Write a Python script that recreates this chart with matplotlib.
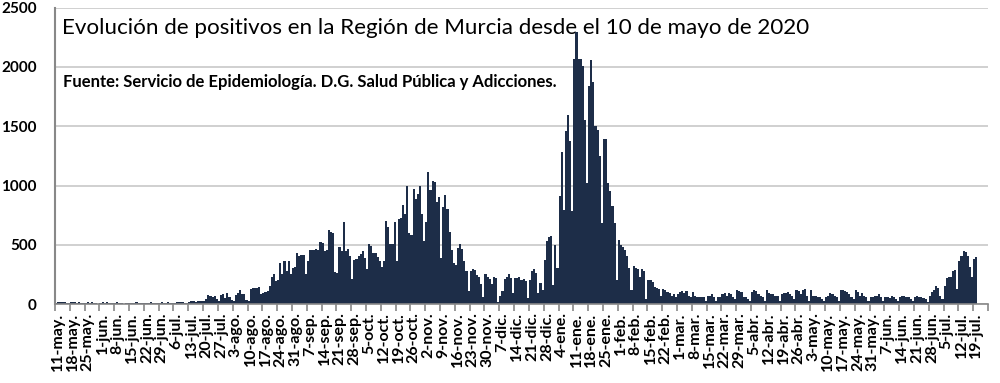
import numpy as np
import matplotlib
matplotlib.use("Agg")
import matplotlib.pyplot as plt

# positivos diarios desde el 10-may-2020 (domingo), una fila = una semana
casos_may_ago_2020 = [
    12, 18, 15, 14, 16, 10, 8,
    14, 17, 15, 12, 14, 10, 9,
    11, 15, 13, 16, 12, 9, 3,
    10, 14, 12, 15, 11, 9, 6,
    12, 14, 11, 13, 3, 9, 8,
    10, 13, 12, 14, 11, 9, 8,
    11, 13, 12, 14, 12, 10, 9,
    12, 14, 13, 12, 15, 11, 10,
    13, 16, 15, 17, 14, 12, 11,
    18, 30, 22, 20, 24, 26, 22,
    25, 45, 78, 65, 60, 70, 40,
    30, 80, 85, 55, 90, 60, 35,
    30, 78, 90, 118, 88, 82, 35,
]
casos_ago_nov_2020 = [
    30, 125, 133, 140, 140, 148, 85,
    90, 98, 110, 155, 228, 250, 195,
    200, 347, 250, 361, 278, 361, 252,
    305, 311, 430, 403, 411, 411, 252,
    367, 458, 460, 458, 462, 460, 520,
    514, 450, 455, 625, 611, 597, 270,
    264, 478, 450, 695, 445, 467, 403,
    208, 375, 378, 403, 422, 445, 389,
    300, 506, 486, 431, 430, 395, 361,
    311, 361, 700, 653, 506, 510, 695,
    361, 717, 728, 834, 764, 1000, 598,
    584, 973, 890, 931, 995, 764, 528,
    695, 1110, 959, 1042, 1028, 862, 903,
]
casos_nov_feb_2021 = [
    389, 820, 917, 806, 611, 458, 347,
    333, 472, 506, 467, 367, 278, 110,
    275, 295, 285, 245, 231, 173, 58,
    254, 231, 208, 173, 225, 217, 20,
    70, 110, 215, 230, 250, 220, 90,
    220, 220, 225, 205, 215, 191, 51,
    205, 276, 300, 262, 93, 177, 121,
    374, 529, 566, 577, 163, 501, 304,
    915, 1280, 796, 1458, 1598, 1373, 782,
    2068, 2295, 2068, 2063, 2006, 1556, 1021,
    1837, 2057, 1871, 1500, 1472, 1247, 684,
    1393, 1393, 1021, 951, 824, 684, 205,
    543, 501, 481, 459, 402, 304, 115,
]
casos_feb_may_2021 = [
    318, 304, 295, 231, 295, 275, 43,
    202, 200, 188, 145, 139, 130, 72,
    130, 121, 101, 92, 72, 87, 58,
    87, 101, 107, 92, 107, 72, 58,
    101, 72, 64, 64, 64, 58, 29,
    72, 72, 87, 58, 23, 58, 64,
    87, 92, 72, 92, 87, 58, 43,
    116, 110, 101, 58, 58, 43, 29,
    101, 116, 110, 87, 72, 58, 23,
    121, 92, 87, 81, 72, 72, 23,
    87, 92, 92, 101, 87, 72, 43,
    116, 110, 87, 121, 130, 72, 23,
    116, 72, 72, 64, 58, 43, 23,
]
casos_may_jul_2021 = [
    58, 72, 92, 81, 72, 58, 23,
    116, 116, 110, 101, 81, 58, 43,
    116, 101, 72, 92, 72, 58, 29,
    64, 58, 72, 72, 81, 58, 29,
    64, 58, 52, 72, 58, 43, 23,
    64, 72, 72, 64, 58, 43, 23,
    64, 72, 64, 58, 52, 43, 14,
    72, 101, 121, 150, 139, 72, 43,
    150, 217, 231, 231, 275, 289, 130,
    361, 405, 448, 440, 405, 312, 231,
    380, 399,
]

etiquetas = [
    "11-may.", "18-may.", "25-may.", "1-jun.", "8-jun.", "15-jun.", "22-jun.",
    "29-jun.", "6-jul.", "13-jul.", "20-jul.", "27-jul.", "3-ago.", "10-ago.",
    "17-ago.", "24-ago.", "31-ago.", "7-sep.", "14-sep.", "21-sep.", "28-sep.",
    "5-oct.", "12-oct.", "19-oct.", "26-oct.", "2-nov.", "9-nov.", "16-nov.",
    "23-nov.", "30-nov.", "7-dic.", "14-dic.", "21-dic.", "28-dic.", "4-ene.",
    "11-ene.", "18-ene.", "25-ene.", "1-feb.", "8-feb.", "15-feb.", "22-feb.",
    "1-mar.", "8-mar.", "15-mar.", "22-mar.", "29-mar.", "5-abr.", "12-abr.",
    "19-abr.", "26-abr.", "3-may.", "10-may.", "17-may.", "24-may.", "31-may.",
    "7-jun.", "14-jun.", "21-jun.", "28-jun.", "5-jul.", "12-jul.", "19-jul.",
]

casos = np.array(casos_may_ago_2020 + casos_ago_nov_2020 + casos_nov_feb_2021
                 + casos_feb_may_2021 + casos_may_jul_2021)
dias = np.arange(len(casos))

fig = plt.figure(figsize=(10, 3.83), dpi=100)
ax = fig.add_axes([0.055, 0.206, 0.933, 0.774])

ax.bar(dias, casos, width=1.0, color="#1d2d48", linewidth=0, zorder=2)

ax.set_xlim(-0.5, len(casos) - 0.5)
ax.set_ylim(0, 2500)
ax.set_yticks(range(0, 2501, 500))
ax.yaxis.grid(True, color="#c8c8c8", linewidth=1.2, zorder=0)
ax.tick_params(axis="y", length=0, pad=13)
for t in ax.get_yticklabels():
    t.set_fontfamily("Lato")
    t.set_fontweight("bold")
    t.set_fontsize(11)

# etiquetas cada lunes, marcas entre semanas
pos_etiq = np.arange(len(etiquetas)) * 7 + 1
ax.set_xticks(pos_etiq)
ax.set_xticklabels(etiquetas, rotation=90, fontfamily="Lato",
                   fontweight="bold", fontsize=11.5)
ax.tick_params(axis="x", which="major", length=0, pad=6)
ax.set_xticks(np.arange(len(etiquetas) + 1) * 7 - 0.5, minor=True)
ax.tick_params(axis="x", which="minor", length=5, width=1.2, color="#888888")

for s in ["top", "right"]:
    ax.spines[s].set_visible(False)
ax.spines["left"].set_color("#888888")
ax.spines["left"].set_linewidth(1.5)
ax.spines["bottom"].set_color("#888888")
ax.spines["bottom"].set_linewidth(1.2)

ax.text(0.008, 0.965, "Evolución de positivos en la Región de Murcia desde el 10 de mayo de 2020",
        transform=ax.transAxes, fontsize=16.1, family="Lato",
        va="top", ha="left", zorder=1)
ax.text(0.009, 0.775, "Fuente: Servicio de Epidemiología. D.G. Salud Pública y Adicciones.",
        transform=ax.transAxes, fontsize=12, family="Lato", fontweight="bold",
        va="top", ha="left", zorder=3)

fig.savefig("out.png", dpi=100, facecolor="white")
